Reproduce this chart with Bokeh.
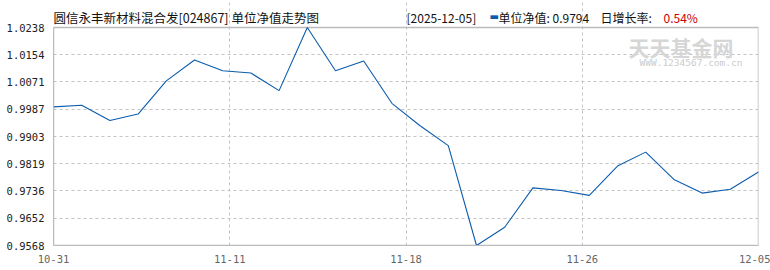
import numpy as np
from bokeh.plotting import figure
from bokeh.models import Label, FixedTicker, PrintfTickFormatter
from bokeh.embed import file_html
from bokeh.resources import INLINE

# ---- data ----
dates = ["10-31", "11-03", "11-04", "11-05", "11-06", "11-07", "11-10", "11-11", "11-12",
         "11-13", "11-14", "11-17", "11-18", "11-19", "11-20", "11-21", "11-24", "11-25",
         "11-26", "11-27", "11-28", "12-01", "12-02", "12-03", "12-04", "12-05"]
nav = [0.9994, 0.9999, 0.9952, 0.9972, 1.0074, 1.0138, 1.0105, 1.0098, 1.0044,
       1.0238, 1.0105, 1.0135, 1.0005, 0.9936, 0.9875, 0.9568, 0.9624, 0.9745,
       0.9737, 0.9722, 0.9812, 0.9855, 0.9771, 0.9729, 0.9741, 0.9794]
x_tick_labels = ["10-31", "11-11", "11-18", "11-26", "12-05"]
y_tick_values = [0.9568, 0.9652, 0.9736, 0.9819, 0.9903, 0.9987, 1.0071, 1.0154, 1.0238]

title_text = "圆信永丰新材料混合发[024867] 单位净值走势图"
date_text = "[2025-12-05]"
nav_text = "单位净值: 0.9794"
growth_text = "日增长率:"
growth_value = "0.54%"
brand_text = "天天基金网"
site_text = "WWW.1234567.com.cn"

# ---- layout constants ----
W, H = 770, 270
L, R, B = 53, 12, 25
CHART_TOP = 27          # pixel row of the top of the plotting box
frame_h = H - B         # frame reaches the top of the canvas (header lives inside it)

n = len(nav)
xs = list(range(n))
ymin, ymax = min(y_tick_values), max(y_tick_values)
y_end = ymin + (ymax - ymin) * frame_h / (frame_h - CHART_TOP)

p = figure(width=W, height=H, output_backend="svg", toolbar_location=None,
           x_range=(xs[0], xs[-1]), y_range=(ymin, y_end),
           min_border_left=L, min_border_right=R, min_border_top=0, min_border_bottom=B,
           background_fill_color="white", border_fill_color="white")
p.outline_line_color = None

# plotting box border
p.quad(left=xs[0], right=xs[-1], bottom=ymin, top=ymax,
       fill_color=None, line_color="#bbbbbb", line_width=1.5)

p.line(xs, nav, line_color="#0b5cad", line_width=1.1)

x_ticks = [(n - 1) * k / (len(x_tick_labels) - 1) for k in range(len(x_tick_labels))]
p.xaxis.ticker = FixedTicker(ticks=x_ticks)
p.xaxis.major_label_overrides = dict(zip(x_ticks, x_tick_labels))
p.yaxis.ticker = FixedTicker(ticks=y_tick_values)
p.yaxis.formatter = PrintfTickFormatter(format="%.4f")
p.yaxis.bounds = (ymin, ymax)

for ax in (p.xaxis, p.yaxis):
    ax.axis_line_color = "#bbbbbb"
    ax.major_tick_line_color = None
    ax.minor_tick_line_color = None
    ax.major_label_text_font = "DejaVu Sans Mono"
    ax.major_label_text_font_size = "10.5px"
    ax.major_label_standoff = 3
p.yaxis.major_label_text_color = "#222222"
p.xaxis.major_label_text_color = "#666666"

for g in (p.xgrid, p.ygrid):
    g.grid_line_color = "#c4c4c4"
    g.grid_line_dash = "3 3"
    g.grid_line_width = 1
p.xgrid.bounds = (ymin, ymax)

frame_bottom = H - B


def canvas_label(x, y, text, **kw):
    opts = dict(text_baseline="middle", text_font="Noto Sans CJK SC",
                text_font_size="12px", text_color="#111111")
    opts.update(kw)
    p.add_layout(Label(x=x - L, y=frame_bottom - y, x_units="screen", y_units="screen",
                       text=text, **opts))


canvas_label(53, 17, title_text, text_font_size="12.5px")
canvas_label(406, 17, date_text)
canvas_label(489, 16, "▬", text_font="DejaVu Sans", text_font_size="10px", text_color="#0b5cad")
canvas_label(498, 17, nav_text)
canvas_label(600, 17, growth_text)
canvas_label(663, 17, growth_value, text_color="#cc0000")
canvas_label(628, 46, brand_text, text_font_size="21px", text_font_style="bold",
             text_color="#d6d6d6")
canvas_label(639, 62, site_text, text_font="DejaVu Sans Mono", text_font_size="9.5px",
             text_color="#cccccc")

open("out.html", "w").write(file_html(p, INLINE))
